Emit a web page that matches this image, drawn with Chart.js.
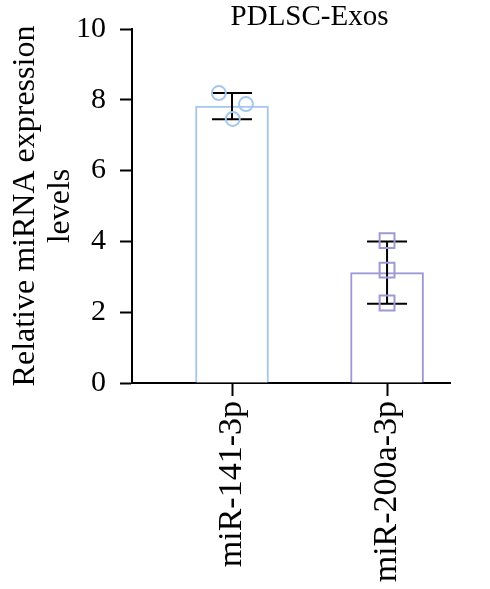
<!DOCTYPE html>
<html>
<head>
<meta charset="utf-8">
<script src="https://cdn.jsdelivr.net/npm/chart.js@4.4.1/dist/chart.umd.min.js"></script>
<style>
html,body{margin:0;padding:0;background:#fff;}
#wrap{width:490px;height:589px;position:relative;}
</style>
</head>
<body>
<div id="wrap"><canvas id="c"></canvas></div>
<script>
/* ================= DATA ================= */
const chartTitle="PDLSC-Exos";
const groups=["miR-141-3p","miR-200a-3p"];
const groupPos=[1,2];
const means=[7.82,3.12];
const sds=[0.37,0.88];
const reps141=[8.19,7.88,7.46];
const reps200a=[4.02,3.19,2.26];
const jitter141=[-0.085,0.09,0.005];
const jitter200a=[0,0,0];
const yTicks=[0,2,4,6,8,10];
const yTitle=["Relative miRNA expression","levels"];

const colBlue="#a5c7ec";
const colPurple="#9d99d4";
const FONT="'Liberation Serif', 'DejaVu Serif', serif";

const barData=groupPos.map((x,i)=>({x:x,y:means[i]}));
const pts141=reps141.map((v,i)=>({x:groupPos[0]+jitter141[i],y:v}));
const pts200a=reps200a.map((v,i)=>({x:groupPos[1]+jitter200a[i],y:v}));

/* error bars + title */
const extras={
id:"extras",
afterDatasetDraw(chart,args){
if(args.index!==0) return;
const ctx=chart.ctx;
const xs=chart.scales.x, ys=chart.scales.y;
ctx.save();
ctx.strokeStyle="#000";
ctx.lineWidth=2;
means.forEach((m,i)=>{
const px=xs.getPixelForValue(groupPos[i]);
const top=ys.getPixelForValue(m+sds[i]);
const bot=ys.getPixelForValue(m-sds[i]);
ctx.beginPath();
ctx.moveTo(px,top);ctx.lineTo(px,bot);
ctx.moveTo(px-20,top);ctx.lineTo(px+20,top);
ctx.moveTo(px-20,bot);ctx.lineTo(px+20,bot);
ctx.stroke();
});
ctx.restore();
},
afterDraw(chart){
const ctx=chart.ctx;
const xs=chart.scales.x;
ctx.save();
ctx.fillStyle="#000";
ctx.font="29px "+FONT;
ctx.textAlign="center";
ctx.textBaseline="middle";
ctx.fillText(chartTitle,xs.getPixelForValue((groupPos[0]+groupPos[1])/2),17);
ctx.restore();
}
};

new Chart(
document.getElementById("c"),
{
type:"bar",
data:{
datasets:[
{
type:"bar",
data:barData,
backgroundColor:"#fff",
borderColor:[colBlue,colPurple],
borderWidth:2,
barThickness:73,
order:3
},
{
type:"scatter",
data:pts141,
pointStyle:"circle",
radius:7,
borderColor:colBlue,
backgroundColor:"rgba(0,0,0,0)",
borderWidth:2,
order:1
},
{
type:"scatter",
data:pts200a,
pointStyle:"rect",
radius:10.5,
borderColor:colPurple,
backgroundColor:"rgba(0,0,0,0)",
borderWidth:2,
order:1
}
]
},
options:{
responsive:true,
maintainAspectRatio:false,
animation:false,
layout:{padding:{top:29,right:40,left:0,bottom:0}},
plugins:{
legend:{display:false},
tooltip:{enabled:false}
},
scales:{
x:{
type:"linear",
min:0.355,
max:2.406,
offset:false,
afterBuildTicks:(s)=>{s.ticks=groupPos.map(v=>({value:v}));},
afterFit:(s)=>{s.height=206;s.paddingLeft=0;s.paddingRight=0;},
ticks:{
color:"#000",
font:{family:FONT,size:34},
minRotation:90,
maxRotation:90,
padding:5,
callback:(v)=>groups[groupPos.indexOf(v)]||""
},
grid:{
offset:false,
drawOnChartArea:false,
color:"#000",
tickLength:13,
tickWidth:2
},
border:{color:"#000",width:2}
},
y:{
min:0,
max:10,
afterBuildTicks:(s)=>{s.ticks=yTicks.map(v=>({value:v}));},
afterFit:(s)=>{s.width=132;s.paddingTop=0;s.paddingBottom=0;},
ticks:{
color:"#000",
font:{family:FONT,size:30},
padding:14
},
grid:{
drawOnChartArea:false,
color:"#000",
tickLength:12,
tickWidth:2
},
border:{color:"#000",width:2},
title:{
display:true,
text:yTitle,
color:"#000",
font:{family:FONT,size:32,lineHeight:1.1},
padding:{top:8,bottom:0}
}
}
}
},
plugins:[extras]
}
);
</script>
</body>
</html>
